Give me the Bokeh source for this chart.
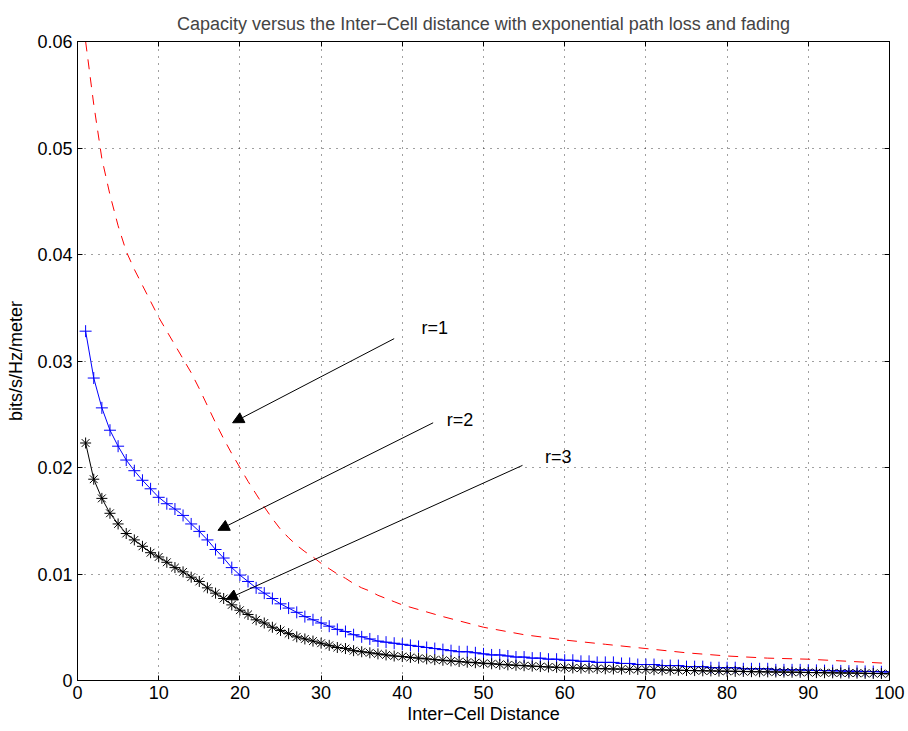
from bokeh.plotting import figure
from bokeh.models import (Range1d, LinearAxis, FixedTicker, NumeralTickFormatter, Arrow,
                          NormalHead, Label, CustomJSTickFormatter)
from bokeh.embed import file_html
from bokeh.resources import INLINE

FONT = "Liberation Sans"

# ---- data ----
x_int = list(range(1, 101))

r1_x = list(range(1, 41)) + [45, 50, 55, 60, 65, 70, 75, 80, 85, 90, 95, 100]
r1_y = [0.0600, 0.0541, 0.0490, 0.0456, 0.0427, 0.0403, 0.0386, 0.0371, 0.0356, 0.0341,
        0.0328, 0.0315, 0.0302, 0.0289, 0.0274, 0.0258, 0.0242, 0.0227, 0.0213, 0.0200,
        0.0187, 0.0175, 0.0163, 0.0152, 0.0142, 0.0134, 0.0127, 0.0121, 0.0116, 0.0110,
        0.0105, 0.0100, 0.0096, 0.0091, 0.0087, 0.0084, 0.0080, 0.0077, 0.0074, 0.0071,
        0.0060, 0.0050, 0.0043, 0.0038, 0.0034, 0.0030, 0.0026, 0.0023, 0.0021, 0.0020,
        0.0018, 0.0016]

r2_y = [0.0328, 0.0284, 0.0256, 0.0235, 0.0220, 0.0207, 0.0197, 0.0188, 0.0180, 0.0172,
        0.0166, 0.0161, 0.0155, 0.0147, 0.0140, 0.0132, 0.0123, 0.0115, 0.0106, 0.0099,
        0.0093, 0.0087, 0.0082, 0.0077, 0.0072, 0.0068, 0.0064, 0.0060, 0.0057, 0.0054,
        0.0051, 0.0048, 0.0046, 0.0043, 0.0041, 0.0039, 0.0037, 0.0036, 0.0035, 0.0034,
        0.0033, 0.0032, 0.0031, 0.0030, 0.0029, 0.0028, 0.0027, 0.0027, 0.0026, 0.0025,
        0.0024, 0.0024, 0.0023, 0.0022, 0.0022, 0.0021, 0.0021, 0.0020, 0.0020, 0.0019,
        0.0019, 0.0018, 0.0018, 0.0017, 0.0017, 0.0017, 0.0016, 0.0016, 0.0015, 0.0015,
        0.0015, 0.0014, 0.0014, 0.0014, 0.0013, 0.0013, 0.0013, 0.0012, 0.0012, 0.0012,
        0.0012, 0.0011, 0.0011, 0.0011, 0.0011, 0.0010, 0.0010, 0.0010, 0.0010, 0.00097,
        0.00095, 0.00093, 0.00092, 0.00090, 0.00088, 0.00087, 0.00085, 0.00084, 0.00082, 0.00081]

r3_y = [0.0223, 0.0189, 0.0171, 0.0157, 0.0147, 0.0138, 0.0132, 0.0126, 0.0120, 0.0116,
        0.0111, 0.0106, 0.0102, 0.0097, 0.0093, 0.0087, 0.0082, 0.0077, 0.0071, 0.0066,
        0.0062, 0.0057, 0.0054, 0.0050, 0.0047, 0.0044, 0.0041, 0.0039, 0.0037, 0.0035,
        0.0033, 0.0031, 0.0030, 0.0028, 0.0027, 0.0026, 0.0025, 0.0024, 0.0023, 0.00225,
        0.00217, 0.00210, 0.00203, 0.00196, 0.00190, 0.00184, 0.00178, 0.00172, 0.00167, 0.00162,
        0.00157, 0.00152, 0.00147, 0.00143, 0.00139, 0.00135, 0.00131, 0.00127, 0.00124, 0.00120,
        0.00118, 0.00116, 0.00114, 0.00112, 0.00110, 0.00108, 0.00107, 0.00105, 0.00104, 0.00103,
        0.00101, 0.00099, 0.00097, 0.00096, 0.00094, 0.00093, 0.00091, 0.00090, 0.00088, 0.00087,
        0.00086, 0.00085, 0.00083, 0.00082, 0.00081, 0.00080, 0.00079, 0.00078, 0.00077, 0.00075,
        0.00074, 0.00073, 0.00072, 0.00071, 0.00070, 0.00069, 0.00067, 0.00066, 0.00065, 0.00063]

x_ticks = [0, 10, 20, 30, 40, 50, 60, 70, 80, 90, 100]
y_ticks = [0, 0.01, 0.02, 0.03, 0.04, 0.05, 0.06]

# annotations
ann_labels = ["r=1", "r=2", "r=3"]
ann_text_x = [44.0, 47.1, 59.2]
ann_text_y = [0.0331, 0.0245, 0.0210]
ann_start_x = [39.0, 43.8, 54.8]
ann_start_y = [0.0321, 0.0242, 0.0202]
ann_end_x = [19.1, 17.3, 18.3]
ann_end_y = [0.0242, 0.0141, 0.0076]

p = figure(width=906, height=729, output_backend="svg", toolbar_location=None,
           x_range=Range1d(0, 100), y_range=Range1d(0, 0.06),
           min_border_left=77, min_border_right=17, min_border_top=41, min_border_bottom=49)

p.title.text = "Capacity versus the Inter\u2212Cell distance with exponential path loss and fading"
p.title.align = "center"
p.title.text_font = FONT
p.title.text_font_size = "18px"
p.title.text_font_style = "normal"
p.title.standoff = 15

p.outline_line_color = "black"
p.outline_line_width = 1
p.background_fill_color = "white"
p.border_fill_color = "white"

for ax in (p.xaxis[0], p.yaxis[0]):
    ax.major_tick_in = 5
    ax.major_tick_out = 0
    ax.minor_tick_line_color = None
    ax.axis_line_color = "black"
    ax.major_label_text_font = FONT
    ax.major_label_text_font_size = "18px"
    ax.major_label_text_color = "black"
    ax.axis_label_text_font = FONT
    ax.axis_label_text_font_size = "18px"
    ax.axis_label_text_font_style = "normal"
    ax.axis_label_text_color = "black"
    ax.major_label_standoff = 5

p.xaxis.ticker = FixedTicker(ticks=x_ticks)
p.yaxis.ticker = FixedTicker(ticks=y_ticks)
p.yaxis.formatter = NumeralTickFormatter(format="0.[00]")
p.xaxis.axis_label = "Inter\u2212Cell Distance"
p.yaxis.axis_label = "bits/s/Hz/meter"
p.xaxis.axis_label_standoff = 2
p.yaxis.axis_label_standoff = 8

top_ax = LinearAxis(ticker=FixedTicker(ticks=x_ticks), major_tick_in=5, major_tick_out=0,
                    minor_tick_line_color=None, formatter=CustomJSTickFormatter(code="return ''"),
                    major_label_standoff=0, axis_line_color="black")
right_ax = LinearAxis(ticker=FixedTicker(ticks=y_ticks), major_tick_in=5, major_tick_out=0,
                      minor_tick_line_color=None, formatter=CustomJSTickFormatter(code="return ''"),
                      major_label_standoff=0, axis_line_color="black")
p.add_layout(top_ax, "above")
p.add_layout(right_ax, "right")

p.xgrid.ticker = FixedTicker(ticks=x_ticks)
p.ygrid.ticker = FixedTicker(ticks=y_ticks)
for g in (p.xgrid[0], p.ygrid[0]):
    g.grid_line_color = "black"
    g.grid_line_alpha = 0.75
    g.grid_line_dash = "1 6"
    g.grid_line_width = 1

# curves
p.line(r1_x, r1_y, line_color="#ff0000", line_width=1, line_dash="10 8")
p.line(x_int, r2_y, line_color="#0000ff", line_width=1)
p.scatter(x_int, r2_y, marker="cross", size=12, line_color="#0000ff", line_width=1)
p.line(x_int, r3_y, line_color="black", line_width=1)
p.scatter(x_int, r3_y, marker="asterisk", size=11, line_color="black", line_width=1)

for i in range(len(ann_labels)):
    p.add_layout(Arrow(end=NormalHead(size=11, fill_color="black", line_color="black"),
                       x_start=ann_start_x[i], y_start=ann_start_y[i],
                       x_end=ann_end_x[i], y_end=ann_end_y[i],
                       line_color="black", line_width=1))
    p.add_layout(Label(x=ann_text_x[i], y=ann_text_y[i], text=ann_labels[i],
                       text_font=FONT, text_font_size="18px", text_color="black",
                       text_align="center", text_baseline="middle"))

open("out.html", "w").write(file_html(p, INLINE))
